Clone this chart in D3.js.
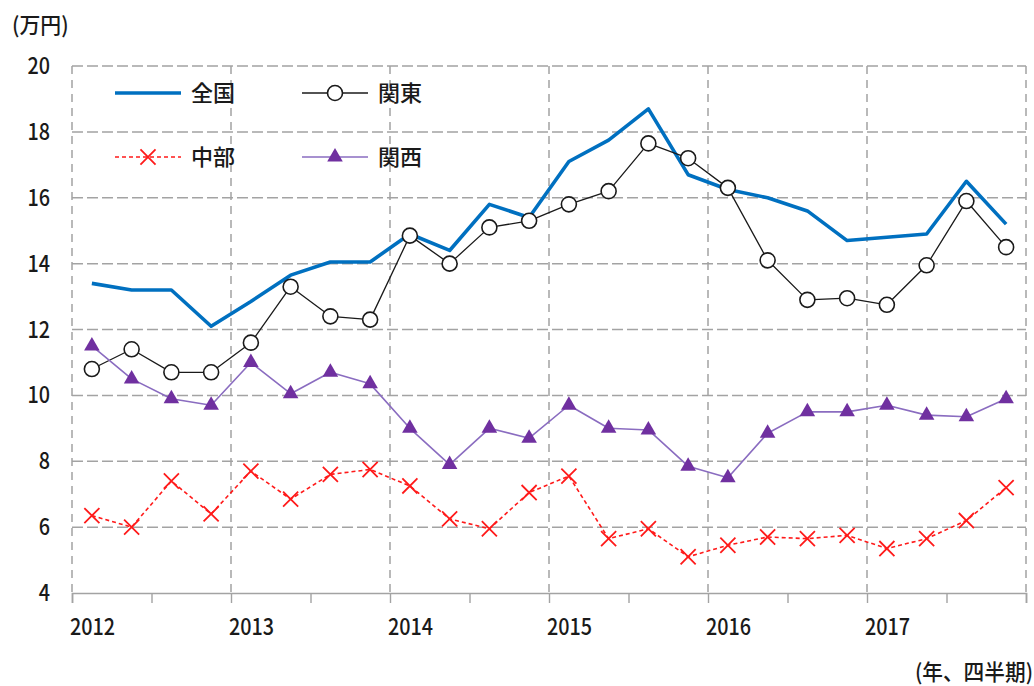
<!DOCTYPE html>
<html lang="ja">
<head>
<meta charset="utf-8">
<script src="https://cdn.jsdelivr.net/npm/d3@7"></script>
<style>
  html, body { margin: 0; padding: 0; background: #fff; }
  svg { display: block; }
  text { font-family: "Noto Sans CJK JP", "Noto Sans", sans-serif; fill: #1a1a1a; font-weight: 500; }
</style>
</head>
<body>
<svg id="chart" width="1034" height="686"></svg>
<script>
// Quarterly series, 2012Q1 – 2017Q4 (万円)
const years = [2012, 2013, 2014, 2015, 2016, 2017];
const quartersPerYear = 4;

const zenkoku = [13.4, 13.2, 13.2, 12.1, 12.85, 13.65, 14.05, 14.05, 14.9, 14.4, 15.8, 15.4,
                 17.1, 17.75, 18.7, 16.7, 16.25, 16.0, 15.6, 14.7, 14.8, 14.9, 16.5, 15.2];
const kanto   = [10.8, 11.4, 10.7, 10.7, 11.6, 13.3, 12.4, 12.3, 14.85, 14.0, 15.1, 15.3,
                 15.8, 16.2, 17.65, 17.2, 16.3, 14.1, 12.9, 12.95, 12.75, 13.95, 15.9, 14.5];
const chubu   = [6.35, 6.0, 7.4, 6.4, 7.7, 6.85, 7.6, 7.75, 7.25, 6.25, 5.95, 7.05,
                 7.55, 5.65, 5.95, 5.1, 5.45, 5.7, 5.65, 5.75, 5.35, 5.65, 6.2, 7.2];
const kansai  = [11.5, 10.5, 9.9, 9.7, 11.0, 10.05, 10.7, 10.35, 9.0, 7.9, 9.0, 8.7,
                 9.7, 9.0, 8.95, 7.85, 7.5, 8.85, 9.5, 9.5, 9.7, 9.4, 9.35, 9.9];

const seriesNames = ["全国", "関東", "中部", "関西"];
const yTicks = [4, 6, 8, 10, 12, 14, 16, 18, 20];
const yUnit = "(万円)";
const xUnit = "(年、四半期)";

const svg = d3.select("#chart");

const x = d3.scaleLinear().domain([2012, 2018]).range([72, 1026]);
const y = d3.scaleLinear().domain([4, 20]).range([593, 66]);
const qx = i => x(years[0] + (i + 0.5) / quartersPerYear);

const gridColor = "#a3a3a3";

// horizontal dashed gridlines
svg.append("g").selectAll("line")
  .data(yTicks.filter(t => t > 4))
  .join("line")
  .attr("x1", x(2012)).attr("x2", x(2018))
  .attr("y1", d => y(d)).attr("y2", d => y(d))
  .attr("stroke", gridColor).attr("stroke-width", 1.5)
  .attr("stroke-dasharray", "11,4");

// vertical dashed gridlines at year boundaries
const yearEdges = years.concat([years[years.length - 1] + 1]);
svg.append("g").selectAll("line")
  .data(yearEdges)
  .join("line")
  .attr("x1", d => x(d)).attr("x2", d => x(d))
  .attr("y1", y(20)).attr("y2", y(4))
  .attr("stroke", gridColor).attr("stroke-width", 1.5)
  .attr("stroke-dasharray", "8,6");

// bottom axis with half-year ticks
const halfYears = d3.range(2012, 2018.01, 0.5);
const xAxis = svg.append("g")
  .attr("transform", `translate(0,${y(4)})`)
  .call(d3.axisBottom(x).tickValues(halfYears).tickSize(10).tickFormat(""));
xAxis.select(".domain").attr("stroke", gridColor).attr("stroke-width", 1.6);
xAxis.selectAll(".tick line").attr("stroke", gridColor).attr("stroke-width", 1.4);

// axis labels (slightly condensed digits)
svg.append("g").selectAll("text")
  .data(years)
  .join("text")
  .attr("transform", d => `translate(${x(d) - 2},${y(4) + 42}) scale(0.86,1)`)
  .attr("font-size", 23)
  .text(d => d);

svg.append("g").selectAll("text")
  .data(yTicks)
  .join("text")
  .attr("transform", d => `translate(50,${y(d) + 8}) scale(0.86,1)`)
  .attr("text-anchor", "end")
  .attr("font-size", 23)
  .text(d => d);

svg.append("text")
  .attr("transform", "translate(12,33) scale(0.95,1)")
  .attr("font-size", 22)
  .text(yUnit);

svg.append("text")
  .attr("transform", "translate(1033,680) scale(0.94,1)")
  .attr("text-anchor", "end")
  .attr("font-size", 22)
  .text(xUnit);

// series definitions
const styles = [
  { data: zenkoku, line: "#0070c0", width: 3.6, dash: null, marker: null },
  { data: kanto,   line: "#1a1a1a", width: 1.3, dash: null, marker: "circle" },
  { data: chubu,   line: "#ff1a1a", width: 1.6, dash: "4,3", marker: "x" },
  { data: kansai,  line: "#8a6cc0", width: 1.6, dash: null, marker: "triangle" }
];

const lineGen = d3.line().x((d, i) => qx(i)).y(d => y(d));

function drawMarker(sel, kind) {
  if (kind === "circle") {
    sel.append("circle").attr("r", 7.5)
      .attr("fill", "#fff").attr("stroke", "#1a1a1a").attr("stroke-width", 1.6);
  } else if (kind === "x") {
    sel.append("path").attr("d", d3.symbol(d3.symbolX, 150)())
      .attr("fill", "none").attr("stroke", "#ff1a1a").attr("stroke-width", 1.8);
  } else if (kind === "triangle") {
    sel.append("path").attr("d", d3.symbol(d3.symbolTriangle, 105)())
      .attr("fill", "#7030a0").attr("stroke", "none");
  }
}

styles.forEach(s => {
  const g = svg.append("g");
  g.append("path")
    .datum(s.data)
    .attr("d", lineGen)
    .attr("fill", "none")
    .attr("stroke", s.line)
    .attr("stroke-width", s.width)
    .attr("stroke-linejoin", "round")
    .attr("stroke-dasharray", s.dash);
  if (s.marker) {
    g.selectAll("g.m")
      .data(s.data)
      .join("g")
      .attr("class", "m")
      .attr("transform", (d, i) => `translate(${qx(i)},${y(d)})`)
      .each(function () { drawMarker(d3.select(this), s.marker); });
  }
});

// legend: two columns, two rows
const legendPos = [
  { x: 115, y: 93 }, { x: 302, y: 93 },
  { x: 115, y: 157 }, { x: 302, y: 157 }
];
styles.forEach((s, i) => {
  const p = legendPos[i];
  const g = svg.append("g").attr("transform", `translate(${p.x},${p.y})`);
  g.append("line")
    .attr("x1", 0).attr("x2", 66).attr("y1", 0).attr("y2", 0)
    .attr("stroke", s.line)
    .attr("stroke-width", s.width)
    .attr("stroke-dasharray", s.dash);
  if (s.marker) {
    const m = g.append("g").attr("transform", "translate(33,0)");
    drawMarker(m, s.marker);
  }
  g.append("text")
    .attr("x", 76).attr("y", 8)
    .attr("font-size", 22)
    .text(seriesNames[i]);
});
</script>
</body>
</html>
